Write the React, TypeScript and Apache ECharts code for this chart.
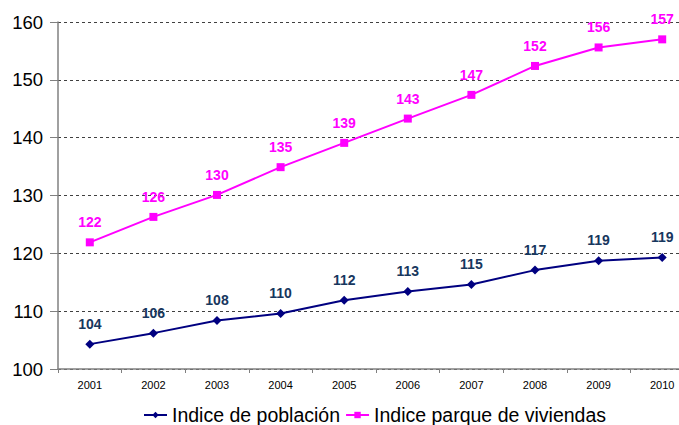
import React, { useEffect, useRef } from "react";
import * as echarts from "echarts";

const years = ["2001", "2002", "2003", "2004", "2005", "2006", "2007", "2008", "2009", "2010"];
const poblacion = [104.3, 106.2, 108.4, 109.6, 111.9, 113.4, 114.6, 117.1, 118.7, 119.3];
const viviendas = [121.9, 126.3, 130.1, 134.9, 139.1, 143.3, 147.4, 152.4, 155.6, 157.0];
const yTicks = { min: 100, max: 160, interval: 10 };

const FONT = "'Liberation Sans', Arial, sans-serif";

export default function App() {
  const ref = useRef<HTMLDivElement>(null);
  useEffect(() => {
    const chart = echarts.init(ref.current!, null, { renderer: "svg" });
    chart.setOption({
      animation: false,
      backgroundColor: "#ffffff",
      grid: { left: 58, width: 636, top: 22, height: 347 },
      legend: {
        left: 143,
        top: 405,
        padding: 0,
        itemWidth: 23,
        itemHeight: 8,
        itemGap: 5,
        textStyle: { fontFamily: FONT, fontSize: 19.5, color: "#000" },
        data: ["Indice de población", "Indice parque de viviendas"],
      },
      xAxis: {
        type: "category",
        data: years,
        boundaryGap: true,
        axisLine: { lineStyle: { color: "#808080", width: 1.5 } },
        axisTick: { show: true, length: 4, lineStyle: { color: "#808080" } },
        axisLabel: { fontFamily: FONT, fontSize: 11, color: "#000", margin: 10 },
        splitLine: { show: false },
      },
      yAxis: {
        type: "value",
        min: yTicks.min,
        max: yTicks.max,
        interval: yTicks.interval,
        axisLine: { show: true, lineStyle: { color: "#808080", width: 1.5 } },
        axisTick: { show: true, length: 8, lineStyle: { color: "#808080" } },
        axisLabel: { fontFamily: FONT, fontSize: 18.5, color: "#000", margin: 15 },
        splitLine: { show: true, lineStyle: { color: "#404040", type: [3, 3], width: 1 } },
      },
      series: [
        {
          name: "Indice de población",
          type: "line",
          data: poblacion,
          color: "#000080",
          symbol: "diamond",
          symbolSize: 9,
          lineStyle: { width: 2, color: "#000080" },
          itemStyle: { color: "#000080" },
          label: {
            show: true,
            position: "top",
            distance: 9,
            fontFamily: FONT,
            fontSize: 14,
            fontWeight: "bold",
            color: "#17375E",
            formatter: (p: any) => String(Math.round(p.value)),
          },
        },
        {
          name: "Indice parque de viviendas",
          type: "line",
          data: viviendas,
          color: "#FF00FF",
          symbol: "rect",
          symbolSize: 8,
          lineStyle: { width: 2, color: "#FF00FF" },
          itemStyle: { color: "#FF00FF" },
          label: {
            show: true,
            position: "top",
            distance: 9,
            fontFamily: FONT,
            fontSize: 14,
            fontWeight: "bold",
            color: "#FF00FF",
            formatter: (p: any) => String(Math.round(p.value)),
          },
        },
      ],
    });
    return () => chart.dispose();
  }, []);
  return (
    <div style={{ width: 679, height: 425, position: "absolute", left: 0, top: 0, overflow: "hidden" }}>
      <div ref={ref} style={{ width: 700, height: 425, position: "absolute", left: 0, top: 0 }} />
    </div>
  );
}
